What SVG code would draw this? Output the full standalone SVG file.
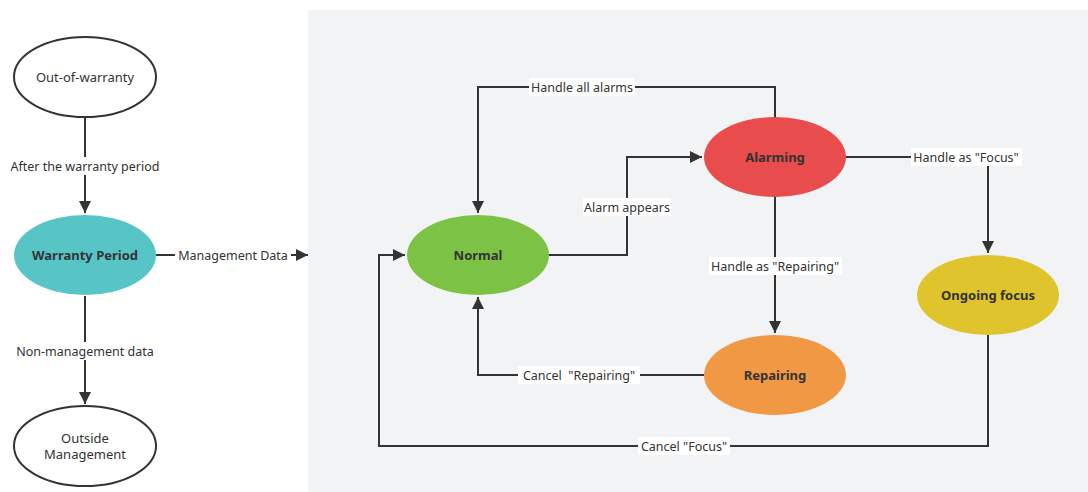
<svg xmlns="http://www.w3.org/2000/svg" width="1088" height="492" viewBox="0 0 1088 492">
<style>
.lbl{font-family:"Noto Sans","Open Sans",sans-serif;font-size:12.5px;fill:#333;text-anchor:middle;dominant-baseline:central}
.nt{font-family:"Noto Sans","Open Sans",sans-serif;font-size:13px;fill:#333;text-anchor:middle;dominant-baseline:central}
.bt{font-family:"Noto Sans","Open Sans",sans-serif;font-size:13px;font-weight:bold;fill:#333;text-anchor:middle;dominant-baseline:central}
.ln{fill:none;stroke:#333;stroke-width:2}
.bg{fill:#ffffff}
</style>
<defs>
<marker id="ahb" viewBox="0 0 10 10" refX="10" refY="5" markerWidth="6" markerHeight="6" orient="auto">
<path d="M0,0 L10,5 L0,10 z" fill="#333"/>
</marker>
</defs>
<rect x="0" y="0" width="1088" height="492" fill="#ffffff"/>
<rect x="308" y="10" width="780" height="482" fill="#f2f3f5"/>

<g id="connectors">
<path class="ln" d="M85,118 V213" marker-end="url(#ahb)"/>
<rect class="bg" x="8" y="157" width="155" height="18"/>
<text class="lbl" x="85" y="166">After the warranty period</text>

<path class="ln" d="M85,296 V404" marker-end="url(#ahb)"/>
<rect class="bg" x="14" y="342" width="144" height="18"/>
<text class="lbl" x="85" y="351">Non-management data</text>

<path class="ln" d="M156,255 H308" marker-end="url(#ahb)"/>
<rect class="bg" x="175" y="246" width="116" height="18"/>
<text class="lbl" x="233" y="255">Management Data</text>

<path class="ln" d="M775,117 V87 H478 V213" marker-end="url(#ahb)"/>
<rect class="bg" x="529" y="78" width="106" height="18"/>
<text class="lbl" x="582" y="87">Handle all alarms</text>

<path class="ln" d="M549,255 H627 V157 H702" marker-end="url(#ahb)"/>
<rect class="bg" x="583" y="198" width="88" height="18"/>
<text class="lbl" x="627" y="207">Alarm appears</text>

<path class="ln" d="M846,157 H988 V253" marker-end="url(#ahb)"/>
<rect class="bg" x="911" y="148" width="111" height="18"/>
<text class="lbl" x="966" y="157">Handle as "Focus"</text>

<path class="ln" d="M775,197 V333" marker-end="url(#ahb)"/>
<rect class="bg" x="709" y="257" width="133" height="18"/>
<text class="lbl" x="775" y="266">Handle as "Repairing"</text>

<path class="ln" d="M704,375 H478 V297" marker-end="url(#ahb)"/>
<rect class="bg" x="518" y="366" width="122" height="18"/>
<text class="lbl" x="579" y="375" xml:space="preserve">Cancel  "Repairing"</text>

<path class="ln" d="M988,335 V446 H379 V255 H405" marker-end="url(#ahb)"/>
<rect class="bg" x="638" y="437" width="92" height="18"/>
<text class="lbl" x="684" y="446">Cancel "Focus"</text>
</g>

<g id="out-of-warranty">
<ellipse cx="85" cy="77" rx="71" ry="40" fill="#ffffff" stroke="#333" stroke-width="2"/>
<text class="nt" x="85" y="77">Out-of-warranty</text>
</g>
<g id="warranty-period">
<ellipse cx="85" cy="255" rx="71" ry="40" fill="#57c4c6"/>
<text class="bt" x="85" y="255">Warranty Period</text>
</g>
<g id="outside-management">
<ellipse cx="85" cy="446" rx="71" ry="40" fill="#ffffff" stroke="#333" stroke-width="2"/>
<text class="nt" x="85" y="438">Outside</text>
<text class="nt" x="85" y="454">Management</text>
</g>
<g id="normal">
<ellipse cx="478" cy="255" rx="71" ry="40" fill="#7cc245"/>
<text class="bt" x="478" y="255">Normal</text>
</g>
<g id="alarming">
<ellipse cx="775" cy="157" rx="71" ry="40" fill="#e84c4c"/>
<text class="bt" x="775" y="157">Alarming</text>
</g>
<g id="ongoing-focus">
<ellipse cx="988" cy="295" rx="71" ry="40" fill="#dfc42e"/>
<text class="bt" x="988" y="295">Ongoing focus</text>
</g>
<g id="repairing">
<ellipse cx="775" cy="375" rx="71" ry="40" fill="#f09844"/>
<text class="bt" x="775" y="375">Repairing</text>
</g>
</svg>
